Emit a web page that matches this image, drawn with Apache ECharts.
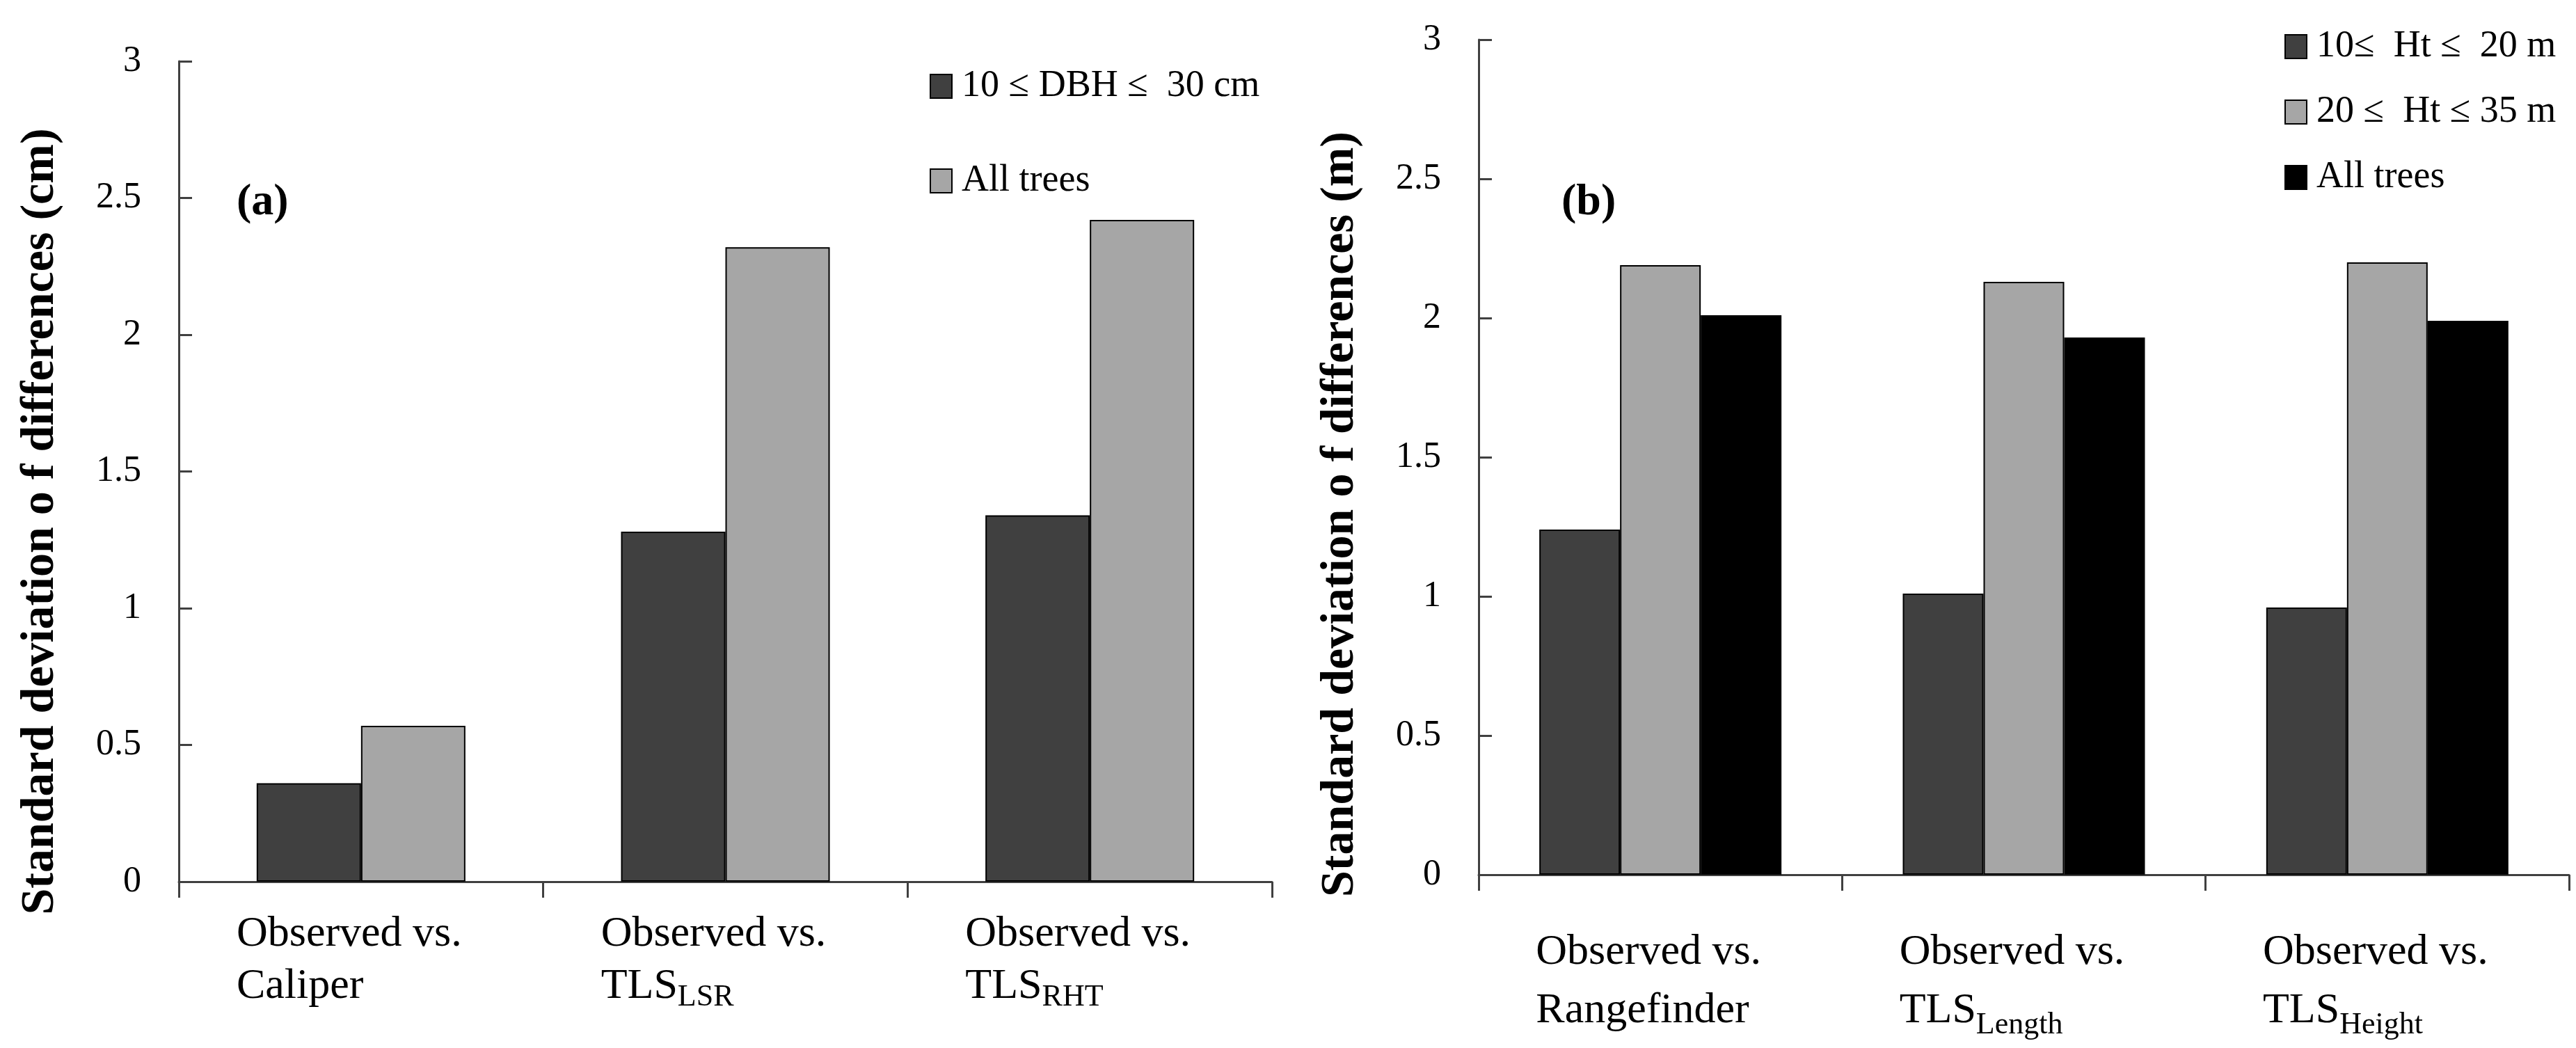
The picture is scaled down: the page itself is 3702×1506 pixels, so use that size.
<!DOCTYPE html>
<html>
<head>
<meta charset="utf-8">
<script src="https://cdn.jsdelivr.net/npm/echarts@6/dist/echarts.min.js"></script>
<style>
  html, body { margin: 0; padding: 0; background: #fff; }
  #chart { width: 3702px; height: 1506px; }
</style>
</head>
<body>
<div id="chart"></div>
<script>
// panel (a): DBH
const dbhCategories = ['Observed vs.\nCaliper', 'Observed vs.\nTLS_LSR', 'Observed vs.\nTLS_RHT']
const dbhSmall = [0.36, 1.28, 1.34]
const dbhAll = [0.57, 2.32, 2.42]

// panel (b): height
const htCategories = ['Observed vs.\nRangefinder', 'Observed vs.\nTLS_Length', 'Observed vs.\nTLS_Height']
const htSmall = [1.24, 1.01, 0.96]
const htTall = [2.19, 2.13, 2.20]
const htAll = [2.01, 1.93, 1.99]

const yMin = 0
const yMax = 3
const yStep = 0.5

const serif = '"Liberation Serif", "Times New Roman", serif'
const axisColor = '#404040'
const darkGray = '#404040'
const lightGray = '#a6a6a6'
const black = '#000000'

// "TLS_LSR" -> TLS with subscript LSR
function catLabel (value) {
  return value.split('\n').map(line => {
    const parts = line.split('_')
    return '{t|' + parts[0] + '}' + (parts[1] ? '{s|' + parts[1] + '}' : '')
  }).join('\n')
}

function xAxis (gridIndex, categories, margin, lineHeight) {
  return {
    type: 'category',
    gridIndex,
    data: categories,
    axisLine: { show: true, lineStyle: { color: axisColor, width: 3 } },
    axisTick: { show: true, length: 23, lineStyle: { color: axisColor, width: 3 } },
    splitLine: { show: false },
    axisLabel: {
      interval: 0,
      margin,
      formatter: catLabel,
      align: 'center',
      padding: [0, 34, 0, 0],
      rich: {
        t: { fontFamily: serif, fontSize: 62, lineHeight, color: '#000', align: 'left' },
        s: { fontFamily: serif, fontSize: 44, lineHeight: 44, color: '#000', align: 'left', verticalAlign: 'bottom' }
      }
    }
  }
}

// shift is how far the rotated title sits below the middle of the axis
function yAxis (gridIndex, name, shift) {
  return {
    type: 'value',
    gridIndex,
    min: yMin,
    max: yMax,
    interval: yStep,
    axisLine: { show: true, lineStyle: { color: axisColor, width: 3 } },
    axisTick: { show: true, inside: true, length: 19, lineStyle: { color: axisColor, width: 3 } },
    splitLine: { show: false },
    axisLabel: { fontFamily: serif, fontSize: 52, color: '#000', margin: 54 },
    name,
    nameLocation: 'middle',
    nameRotate: 90,
    nameGap: 165,
    nameTextStyle: { fontFamily: serif, fontWeight: 'bold', fontSize: 68, color: '#000', padding: [0, shift * 2, 0, 0] }
  }
}

function bar (name, data, color, idx, width) {
  return {
    type: 'bar',
    name,
    data,
    xAxisIndex: idx,
    yAxisIndex: idx,
    barWidth: width,
    barGap: '0%',
    itemStyle: { color, borderColor: '#000', borderWidth: 2 },
    emphasis: { disabled: true }
  }
}

function legendItem (name, color) {
  return { name, itemStyle: { color, borderColor: '#000', borderWidth: 2 } }
}

const mychart = echarts.init(document.getElementById('chart'))

mychart.setOption({
  animation: false,
  backgroundColor: '#fff',
  title: [
    { text: '(a)', left: 340, top: 259, padding: 0, textStyle: { fontFamily: serif, fontWeight: 'bold', fontSize: 64, color: '#000' } },
    { text: '(b)', left: 2244, top: 259, padding: 0, textStyle: { fontFamily: serif, fontWeight: 'bold', fontSize: 64, color: '#000' } }
  ],
  legend: [
    {
      orient: 'vertical', left: 1336, top: 97, padding: 0,
      itemWidth: 31, itemHeight: 34, itemGap: 82,
      icon: 'rect',
      textStyle: { fontFamily: serif, fontSize: 54, lineHeight: 40, color: '#000', padding: [0, 0, 0, 9] },
      data: [legendItem('10 ≤ DBH ≤  30 cm', darkGray), legendItem('All trees', lightGray)]
    },
    {
      orient: 'vertical', left: 3283, top: 40, padding: 0,
      itemWidth: 31, itemHeight: 34, itemGap: 40,
      icon: 'rect',
      textStyle: { fontFamily: serif, fontSize: 54, lineHeight: 40, color: '#000', padding: [0, 0, 0, 9] },
      data: [legendItem('10≤  Ht ≤  20 m', darkGray), legendItem('20 ≤  Ht ≤ 35 m', lightGray), legendItem('All trees', black)]
    }
  ],
  grid: [
    { left: 257, top: 88, width: 1571, height: 1179 },
    { left: 2125, top: 57, width: 1567, height: 1200 }
  ],
  xAxis: [xAxis(0, dbhCategories, 38, 75), xAxis(1, htCategories, 70, 84)],
  yAxis: [
    yAxis(0, 'Standard deviation o f differences (cm)', 72),
    yAxis(1, 'Standard deviation o f differences (m)', 82)
  ],
  series: [
    bar('10 ≤ DBH ≤  30 cm', dbhSmall, darkGray, 0, 150),
    bar('All trees', dbhAll, lightGray, 0, 150),
    bar('10≤  Ht ≤  20 m', htSmall, darkGray, 1, 116),
    bar('20 ≤  Ht ≤ 35 m', htTall, lightGray, 1, 116),
    bar('All trees', htAll, black, 1, 116)
  ]
})
</script>
</body>
</html>
